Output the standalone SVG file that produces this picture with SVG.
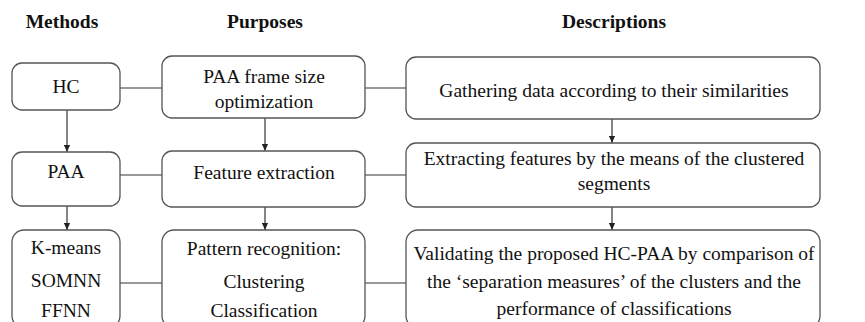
<svg xmlns="http://www.w3.org/2000/svg" width="865" height="322" viewBox="0 0 865 322">
<defs>
<style>
.box{fill:#fff;stroke:#555;stroke-width:1.3}
.lbl{font-family:'Liberation Serif',serif;font-size:19.5px;fill:#111;text-anchor:middle}
.hdr{font-family:'Liberation Serif',serif;font-size:19.5px;font-weight:bold;fill:#111;text-anchor:middle}
.c{stroke:#333;stroke-width:1.2;fill:none}
</style>
<marker id="ah" viewBox="0 0 8 8" refX="8" refY="4" markerWidth="7" markerHeight="7" markerUnits="userSpaceOnUse" orient="auto">
<path d="M0,0.5 L8,4 L0,7.5 Z" fill="#222"/>
</marker>
</defs>
<rect width="865" height="322" fill="#fff"/>
<text class="hdr" x="62" y="28">Methods</text>
<text class="hdr" x="265" y="28">Purposes</text>
<text class="hdr" x="614" y="28">Descriptions</text>

<g id="connectors">
<line class="c" x1="120" y1="88" x2="162" y2="88"/>
<line class="c" x1="365" y1="88" x2="406" y2="88"/>
<line class="c" x1="120" y1="175" x2="162" y2="175"/>
<line class="c" x1="365" y1="175" x2="406" y2="175"/>
<line class="c" x1="120" y1="283" x2="162" y2="283"/>
<line class="c" x1="365" y1="283" x2="406" y2="283"/>
<line class="c" x1="67" y1="110" x2="67" y2="152" marker-end="url(#ah)"/>
<line class="c" x1="67" y1="206" x2="67" y2="230" marker-end="url(#ah)"/>
<line class="c" x1="265" y1="118" x2="265" y2="151" marker-end="url(#ah)"/>
<line class="c" x1="265" y1="207" x2="265" y2="230" marker-end="url(#ah)"/>
<line class="c" x1="612" y1="119" x2="612" y2="143" marker-end="url(#ah)"/>
<line class="c" x1="612" y1="207" x2="612" y2="230" marker-end="url(#ah)"/>
</g>

<g id="hc"><rect class="box" x="12" y="63" width="108" height="47" rx="10"/><text class="lbl" x="66" y="93">HC</text></g>
<g id="paa"><rect class="box" x="12" y="152" width="108" height="54" rx="10"/><text class="lbl" x="66" y="178">PAA</text></g>
<g id="methods3"><rect class="box" x="12" y="230" width="108" height="98" rx="12"/>
<text class="lbl" x="66" y="254">K-means</text><text class="lbl" x="66" y="287">SOMNN</text><text class="lbl" x="66" y="317">FFNN</text></g>

<g id="p1"><rect class="box" x="162" y="56" width="203" height="62" rx="10"/>
<text class="lbl" x="264" y="83">PAA frame size</text><text class="lbl" x="264" y="108">optimization</text></g>
<g id="p2"><rect class="box" x="162" y="151" width="203" height="56" rx="10"/><text class="lbl" x="264" y="179">Feature extraction</text></g>
<g id="p3"><rect class="box" x="162" y="230" width="203" height="98" rx="12"/>
<text class="lbl" x="264" y="255">Pattern recognition:</text><text class="lbl" x="264" y="288">Clustering</text><text class="lbl" x="264" y="317">Classification</text></g>

<g id="d1"><rect class="box" x="406" y="57" width="414" height="62" rx="10"/>
<text class="lbl" x="614" y="97">Gathering data according to their similarities</text></g>
<g id="d2"><rect class="box" x="406" y="143" width="414" height="64" rx="10"/>
<text class="lbl" x="614" y="165">Extracting features by the means of the clustered</text><text class="lbl" x="614" y="190">segments</text></g>
<g id="d3"><rect class="box" x="406" y="230" width="414" height="98" rx="12"/>
<text class="lbl" x="614" y="260">Validating the proposed HC-PAA by comparison of</text>
<text class="lbl" x="614" y="288">the ‘separation measures’ of the clusters and the</text>
<text class="lbl" x="614" y="315">performance of classifications</text></g>
</svg>
